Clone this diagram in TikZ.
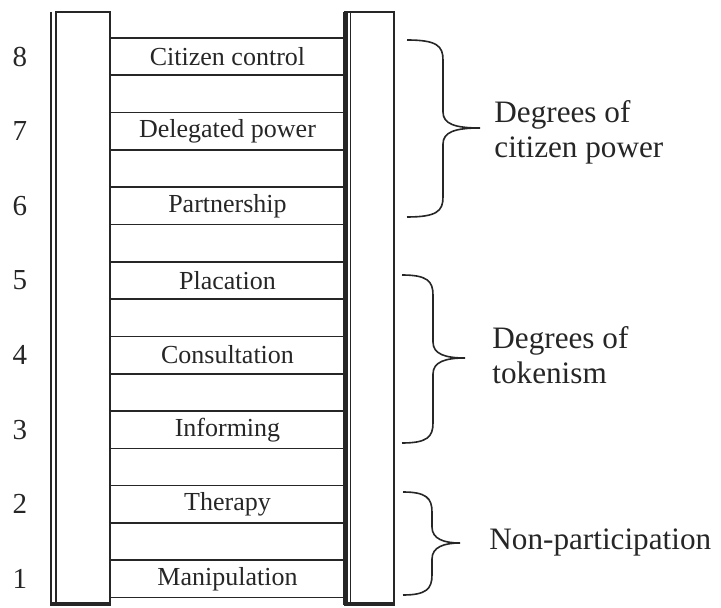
\documentclass[tikz,border=0pt]{standalone}
\usepackage{fontspec}
\setmainfont{Liberation Serif}
\definecolor{ink}{HTML}{262626}
\begin{document}
\begin{tikzpicture}[x=0.5pt,y=-0.5pt,
  rung/.style={draw=ink,line width=0.8pt},
  rail/.style={draw=ink,line width=0.8pt},
  railthick/.style={draw=ink,line width=2.4pt},
  lbl/.style={font=\fontsize{13}{15}\selectfont,text=ink,inner sep=0pt},
  num/.style={font=\fontsize{14.5}{16}\selectfont,text=ink,inner sep=0pt},
  grp/.style={font=\fontsize{15.6}{17.5}\selectfont,text=ink,inner sep=0pt,align=left,anchor=west},
  bracepath/.style={draw=ink,line width=0.8pt}]
\useasboundingbox (0,0) rectangle (721,608);
% rails
\draw[rail] (56,12) rectangle (110,605);
\draw[rail] (51,12) -- (51,605);
\draw[railthick] (50,604) -- (111,604);
\draw[rail] (345,12) rectangle (394,605);
\draw[railthick] (345.5,12) -- (345.5,605);
\draw[rail] (350.5,12) -- (350.5,605);
\draw[railthick] (344,604) -- (395,604);
% rungs
\foreach \k in {0,...,15}
  \draw[rung] (110,{38+37.3*\k}) -- (345,{38+37.3*\k});
% labels and numbers
\foreach \t [count=\i from 0] in {Citizen control,Delegated power,Partnership,Placation,Consultation,Informing,Therapy,Manipulation}{
  \pgfmathtruncatemacro\n{8-\i}
  \node[lbl] (r\i) at (227.5,{56.7+74.6*\i}) {\t};
  \node[num] (n\i) at (20,{56.7+74.6*\i}) {\n};
}
% braces
\newcommand\ladderbrace[6]{% xe xs xt y0 ym y1
  \draw[bracepath] (#1,#4) .. controls ({#2-6},#4) and (#2,{#4+6}) .. (#2,{#4+20})
    -- (#2,{#5-16}) .. controls (#2,{#5-4}) and ({#2+12},#5) .. (#3,#5)
    .. controls ({#2+12},#5) and (#2,{#5+4}) .. (#2,{#5+16})
    -- (#2,{#6-20}) .. controls (#2,{#6-6}) and ({#2-6},#6) .. (#1,#6);}
\ladderbrace{407}{443}{480}{40}{128}{217}
\ladderbrace{402}{433}{465}{275}{358}{443}
\ladderbrace{403}{432}{460}{492}{543}{595}
\node[grp] (g1) at (494,132) {Degrees of\\citizen power};
\node[grp] (g2) at (492,355) {Degrees of\\tokenism};
\node[grp] (g3) at (489,542) {Non-participation};
\end{tikzpicture}
\end{document}
